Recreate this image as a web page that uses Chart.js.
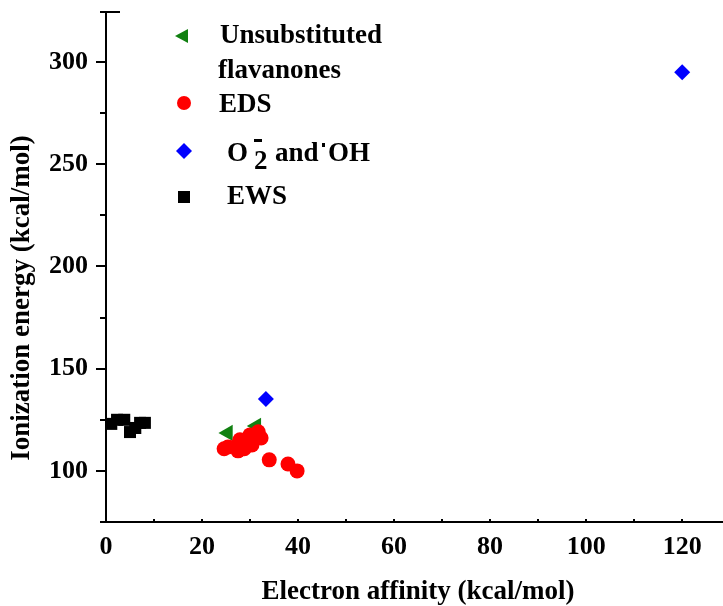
<!DOCTYPE html>
<html>
<head>
<meta charset="utf-8">
<script src="https://cdn.jsdelivr.net/npm/chart.js@4.4.1/dist/chart.umd.min.js"></script>
<style>
  html, body { margin: 0; padding: 0; background: #fff; }
  #wrap { width: 723px; height: 606px; }
</style>
</head>
<body>
<div id="wrap"><canvas id="scatterChart" width="723" height="606"></canvas></div>
<script>
// electron affinity (x) vs ionization energy (y), both in kcal/mol
var unsubEA = [25.4, 31.3];
var unsubIE = [118.6, 122.0];

var edsEA = [24.6, 25.4, 27.1, 27.5, 27.9, 28.8, 29.2, 30.0, 30.4, 30.8, 31.7, 32.3, 34.0, 37.9, 39.8];
var edsIE = [110.8, 111.7, 112.2, 109.8, 115.2, 110.8, 114.7, 117.6, 112.7, 116.1, 119.1, 116.1, 105.4, 103.4, 100.0];

var radicalEA = [33.3, 120.0];
var radicalIE = [135.2, 295.0];

var ewsEA = [1.1, 2.3, 3.8, 5.0, 6.1, 7.1, 8.1];
var ewsIE = [123.0, 125.0, 125.0, 119.0, 121.0, 123.5, 123.5];

var xTicks = [0, 20, 40, 60, 80, 100, 120];
var yTicks = [100, 150, 200, 250, 300];

var xTitle = 'Electron affinity (kcal/mol)';
var yTitle = 'Ionization energy (kcal/mol)';

var serif = '"Liberation Serif", "Times New Roman", serif';

function toPoints(xs, ys) {
    return xs.map(function (x, i) { return { x: x, y: ys[i] }; });
}

// axis lines, tick marks, titles and the legend block
var decorations = {
    id: 'decorations',
    afterDraw: function (chart) {
        var ctx = chart.ctx;
        var area = chart.chartArea;
        var xs = chart.scales.x;
        var ys = chart.scales.y;
        var v, p;
        ctx.save();
        ctx.strokeStyle = '#000';
        ctx.fillStyle = '#000';
        ctx.lineWidth = 2;

        ctx.beginPath();
        ctx.moveTo(area.left, area.top);
        ctx.lineTo(area.left, area.bottom);
        ctx.moveTo(area.left - 6, area.bottom);
        ctx.lineTo(area.right, area.bottom);
        ctx.moveTo(area.left - 6, area.top);
        ctx.lineTo(area.left + 14, area.top);
        ctx.stroke();

        // labelled ticks reach further out, minor ones sit halfway between
        for (v = 100; v <= ys.max; v += 25) {
            p = Math.round(ys.getPixelForValue(v));
            ctx.beginPath();
            ctx.moveTo(area.left - (v % 50 === 0 ? 10 : 6), p);
            ctx.lineTo(area.left, p);
            ctx.stroke();
        }
        for (v = 10; v <= xs.max; v += 10) {
            p = Math.round(xs.getPixelForValue(v));
            ctx.beginPath();
            ctx.moveTo(p, area.bottom);
            ctx.lineTo(p, area.bottom - 3);
            ctx.stroke();
        }

        ctx.font = 'bold 27px ' + serif;
        ctx.textAlign = 'center';
        ctx.textBaseline = 'middle';
        ctx.fillText(xTitle, 418, 592);
        ctx.save();
        ctx.translate(22, 298);
        ctx.rotate(-Math.PI / 2);
        ctx.fillText(yTitle, 0, 0);
        ctx.restore();

        // legend markers
        ctx.fillStyle = '#118011';
        ctx.beginPath();
        ctx.moveTo(175, 36);
        ctx.lineTo(188, 29);
        ctx.lineTo(188, 43);
        ctx.closePath();
        ctx.fill();

        ctx.fillStyle = '#ff0000';
        ctx.beginPath();
        ctx.arc(184, 103, 7, 0, Math.PI * 2);
        ctx.fill();

        ctx.fillStyle = '#0000ff';
        ctx.beginPath();
        ctx.moveTo(184, 143);
        ctx.lineTo(192, 151);
        ctx.lineTo(184, 159);
        ctx.lineTo(176, 151);
        ctx.closePath();
        ctx.fill();

        ctx.fillStyle = '#000';
        ctx.fillRect(178, 191, 12, 12);

        // legend text
        ctx.font = 'bold 27px ' + serif;
        ctx.textAlign = 'left';
        ctx.textBaseline = 'alphabetic';
        ctx.fillText('Unsubstituted', 220, 43);
        ctx.fillText('flavanones', 218, 78);
        ctx.fillText('EDS', 219, 112);
        ctx.fillText('O', 227, 161);
        ctx.fillText('2', 254, 169);
        ctx.fillRect(254, 139, 8, 3);
        ctx.fillText('and', 275, 161);
        ctx.fillRect(322, 143, 3, 4);
        ctx.fillText('OH', 328, 161);
        ctx.fillText('EWS', 227, 204);
        ctx.restore();
    }
};

var ctx = document.getElementById('scatterChart').getContext('2d');
var chart = new Chart(ctx, {
    type: 'scatter',
    data: {
        datasets: [{
            label: 'Unsubstituted flavanones',
            data: toPoints(unsubEA, unsubIE),
            pointStyle: 'triangle',
            rotation: -90,
            pointRadius: 9.5,
            backgroundColor: '#118011',
            borderWidth: 0,
            order: 2
        }, {
            label: 'EDS',
            data: toPoints(edsEA, edsIE),
            pointStyle: 'circle',
            pointRadius: 7.5,
            backgroundColor: '#ff0000',
            borderWidth: 0,
            order: 1
        }, {
            label: 'O2- and OH',
            data: toPoints(radicalEA, radicalIE),
            pointStyle: 'rectRot',
            pointRadius: 8,
            backgroundColor: '#0000ff',
            borderWidth: 0,
            order: 0
        }, {
            label: 'EWS',
            data: toPoints(ewsEA, ewsIE),
            pointStyle: 'rect',
            pointRadius: 8.5,
            backgroundColor: '#000000',
            borderWidth: 0,
            order: 0
        }]
    },
    options: {
        responsive: false,
        animation: false,
        layout: { autoPadding: false, padding: { left: 0, right: 0, top: 12, bottom: 0 } },
        plugins: {
            legend: { display: false },
            tooltip: { enabled: false }
        },
        scales: {
            x: {
                type: 'linear',
                min: 0,
                max: 128.5,
                afterBuildTicks: function (s) {
                    s.ticks = xTicks.map(function (v) { return { value: v }; });
                },
                afterFit: function (s) {
                    s.height = 84;
                    s.paddingLeft = 0;
                    s.paddingRight = 0;
                },
                border: { display: false },
                grid: { display: false, drawTicks: false },
                ticks: {
                    padding: 10,
                    color: '#000',
                    maxRotation: 0,
                    autoSkip: false,
                    font: { family: serif, size: 26, weight: 'bold' }
                }
            },
            y: {
                type: 'linear',
                min: 75,
                max: 324.5,
                afterBuildTicks: function (s) {
                    s.ticks = yTicks.map(function (v) { return { value: v }; });
                },
                afterFit: function (s) {
                    s.width = 106;
                    s.paddingTop = 0;
                    s.paddingBottom = 0;
                },
                border: { display: false },
                grid: { display: false, drawTicks: false },
                ticks: {
                    padding: 18,
                    color: '#000',
                    autoSkip: false,
                    font: { family: serif, size: 26, weight: 'bold' }
                }
            }
        }
    },
    plugins: [decorations]
});
</script>
</body>
</html>
